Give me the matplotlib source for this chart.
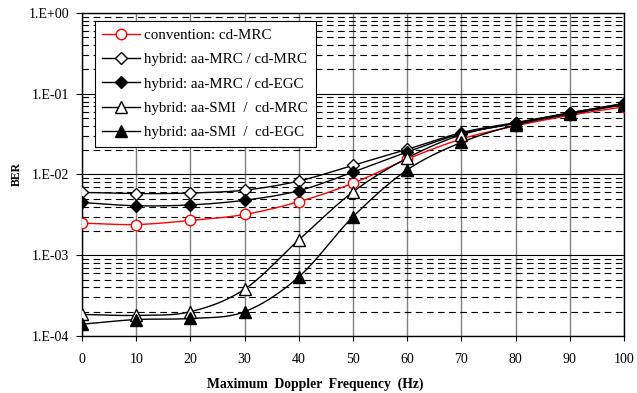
import numpy as np
import matplotlib
matplotlib.use("Agg")
import matplotlib.pyplot as plt
from matplotlib.ticker import LogLocator, FixedLocator, NullFormatter

plt.rcParams['font.family'] = ['Liberation Serif', 'DejaVu Serif']

# data
doppler = [0, 10, 20, 30, 40, 50, 60, 70, 80, 90, 100]
conv_mrc = [2.5e-3, 2.4e-3, 2.7e-3, 3.2e-3, 4.6e-3, 7.8e-3, 1.55e-2, 2.75e-2, 4.0e-2, 5.4e-2, 6.9e-2]
mrc_mrc = [6.0e-3, 5.8e-3, 5.9e-3, 6.4e-3, 8.3e-3, 1.3e-2, 2.05e-2, 3.3e-2, 4.4e-2, 5.8e-2, 7.6e-2]
mrc_egc = [4.5e-3, 4.1e-3, 4.2e-3, 4.8e-3, 6.3e-3, 1.07e-2, 1.9e-2, 3.2e-2, 4.3e-2, 5.8e-2, 7.5e-2]
smi_mrc = [1.85e-4, 1.8e-4, 2.0e-4, 3.8e-4, 1.55e-3, 6.1e-3, 1.6e-2, 3.1e-2, 4.3e-2, 5.7e-2, 7.4e-2]
smi_egc = [1.4e-4, 1.6e-4, 1.65e-4, 2.0e-4, 5.4e-4, 3.0e-3, 1.14e-2, 2.5e-2, 4.1e-2, 5.6e-2, 7.3e-2]

labels = ["convention: cd-MRC", "hybrid: aa-MRC / cd-MRC", "hybrid: aa-MRC / cd-EGC",
          "hybrid: aa-SMI  /  cd-MRC", "hybrid: aa-SMI  /  cd-EGC"]
series = [conv_mrc, mrc_mrc, mrc_egc, smi_mrc, smi_egc]
styles = [dict(color='red', marker='o', mfc='white', ms=7.5),
          dict(color='black', marker='D', mfc='white', ms=6),
          dict(color='black', marker='D', mfc='black', ms=6),
          dict(color='black', marker='^', mfc='white', ms=8),
          dict(color='black', marker='^', mfc='black', ms=8)]


def smooth(x, y, n=20):
    # Catmull-Rom through the points in (x, log y), like the spreadsheet's smoothed line
    x = np.asarray(x, float)
    ly = np.log10(y)
    px = np.concatenate([[2 * x[0] - x[1]], x, [2 * x[-1] - x[-2]]])
    py = np.concatenate([[2 * ly[0] - ly[1]], ly, [2 * ly[-1] - ly[-2]]])
    xs, ys = [], []
    t = np.linspace(0, 1, n, endpoint=False)
    for i in range(1, len(px) - 2):
        for p, out in ((px, xs), (py, ys)):
            p0, p1, p2, p3 = p[i - 1], p[i], p[i + 1], p[i + 2]
            out.extend(0.5 * (2 * p1 + (-p0 + p2) * t + (2 * p0 - 5 * p1 + 4 * p2 - p3) * t ** 2
                              + (-p0 + 3 * p1 - 3 * p2 + p3) * t ** 3))
    xs.append(x[-1])
    ys.append(ly[-1])
    return np.array(xs), 10 ** np.array(ys)


fig = plt.figure(figsize=(6.37, 3.93), dpi=100)
ax = fig.add_axes([0.1287, 0.145, 0.851, 0.822])

for y, lab, st in zip(series, labels, styles):
    sx, sy = smooth(doppler, y)
    ax.plot(sx, sy, color=st['color'], lw=1.0, zorder=3)
    ax.plot(doppler, y, linestyle='none', marker=st['marker'], mfc=st['mfc'],
            mec=st['color'], ms=st['ms'], mew=1.0, zorder=4)

ax.set_yscale('log')
ax.set_ylim(1e-4, 1)
ax.set_xlim(0, 100)
ax.xaxis.set_major_locator(FixedLocator(doppler))
ax.yaxis.set_major_locator(FixedLocator([1e-4, 1e-3, 1e-2, 1e-1, 1]))
ax.set_yticklabels(["1.E-04", "1.E-03", "1.E-02", "1.E-01", "1.E+00"])
ax.yaxis.set_minor_locator(LogLocator(base=10, subs=np.arange(2, 10), numticks=20))
ax.yaxis.set_minor_formatter(NullFormatter())

ax.grid(True, which='major', axis='x', color='#808080', lw=1.0)
ax.grid(True, which='major', axis='y', color='black', lw=0.8)
ax.grid(True, which='minor', axis='y', color='black', lw=0.8, linestyle=(0, (6, 4)))
ax.set_axisbelow(True)

ax.tick_params(axis='both', which='major', labelsize=10, width=0.8, direction='out')
ax.tick_params(axis='x', which='major', length=3.5, pad=9)
ax.tick_params(axis='y', which='major', length=4, pad=5)
ax.tick_params(axis='y', which='minor', length=0)
for s in ax.spines.values():
    s.set_linewidth(1.0)

ax.set_xlabel("Maximum  Doppler  Frequency  (Hz)", fontsize=9.8, fontweight='bold')
ax.xaxis.set_label_coords(0.43, -0.128)
ax.set_ylabel("BER", fontsize=8.5, fontweight='bold', labelpad=4)

handles = [ax.plot([], [], color=st['color'], lw=1.0, marker=st['marker'], mfc=st['mfc'],
                   mec=st['color'], ms=st['ms'])[0] for st in styles]
leg = ax.legend(handles, labels, loc='upper left', bbox_to_anchor=(0.024, 0.975),
                borderaxespad=0, fontsize=10.8, frameon=True, fancybox=False,
                edgecolor='black', framealpha=1, handlelength=2.5, handletextpad=0.3,
                labelspacing=0.72, borderpad=0.5)
leg.get_frame().set_linewidth(0.8)

fig.savefig("out.png", dpi=100)
